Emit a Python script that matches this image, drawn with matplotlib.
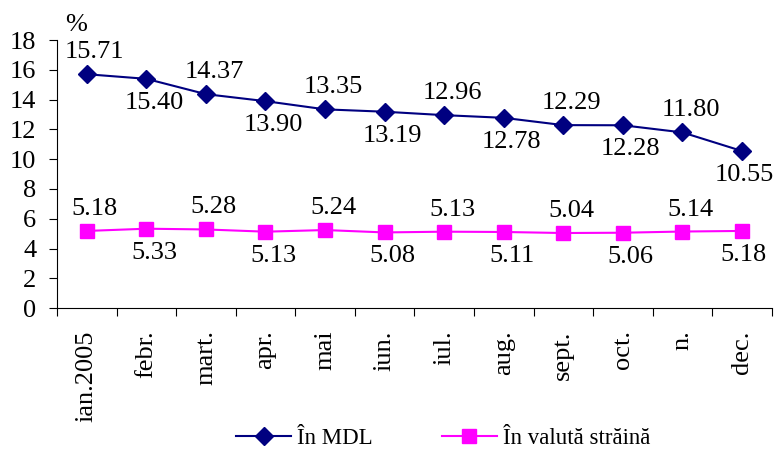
import matplotlib
matplotlib.use('Agg')
import matplotlib.pyplot as plt
import numpy as np

plt.rcParams['font.family'] = ['Liberation Serif', 'DejaVu Serif']

months = ['ian.2005', 'febr.', 'mart.', 'apr.', 'mai', 'iun.', 'iul.',
          'aug.', 'sept.', 'oct.', 'n.', 'dec.']
mdl = [15.71, 15.40, 14.37, 13.90, 13.35, 13.19, 12.96, 12.78, 12.29, 12.28, 11.80, 10.55]
valuta = [5.18, 5.33, 5.28, 5.13, 5.24, 5.08, 5.13, 5.11, 5.04, 5.06, 5.14, 5.18]
yticks = list(range(0, 19, 2))

fig = plt.figure(figsize=(7.78, 4.51), dpi=100)
ax = fig.add_axes([0.0733, 0.317, 0.9187, 0.594])

x = np.arange(len(months))
ax.plot(x, mdl, color='#000080', marker='D', markersize=9, lw=1.5, label='În MDL')
ax.plot(x, valuta, color='#FF00FF', marker='s', markersize=10, lw=1.5,
        label='În valută străină')

# data labels alternate above / below the points, a little to the right
# (last one kept inside the figure)
for i in x:
    off = 22 if i % 2 == 0 else -24
    dx = 8 if i < len(months) - 1 else 2
    for vals in (mdl, valuta):
        ax.annotate(f'{vals[i]:.2f}', (i, vals[i]), xytext=(dx, off),
                    textcoords='offset pixels',
                    ha='center', va='center', fontsize=19)

ax.set_xlim(-0.5, len(months) - 0.5)
ax.set_ylim(0, 18)
ax.set_yticks(yticks)
ax.tick_params(axis='y', labelsize=19, length=6, direction='out', pad=9)

ax.set_xticks(np.arange(-0.5, len(months), 1))
ax.set_xticklabels([])
ax.tick_params(axis='x', which='major', length=6, direction='out')
ax.set_xticks(x, minor=True)
ax.set_xticklabels(months, minor=True, rotation=90, fontsize=19)
ax.tick_params(axis='x', which='minor', length=0, pad=16)

for s in ('top', 'right'):
    ax.spines[s].set_visible(False)

ax.text(0.011, 1.015, '%', transform=ax.transAxes, fontsize=19, ha='left', va='bottom')

fig.legend(loc='center left', bbox_to_anchor=(236 / 778, 1 - 438 / 451), ncol=2,
           frameon=False, fontsize=16.5, handlelength=2.4, columnspacing=3.0,
           handletextpad=0.27, borderpad=0, borderaxespad=0)

fig.savefig('out.png', dpi=100)
